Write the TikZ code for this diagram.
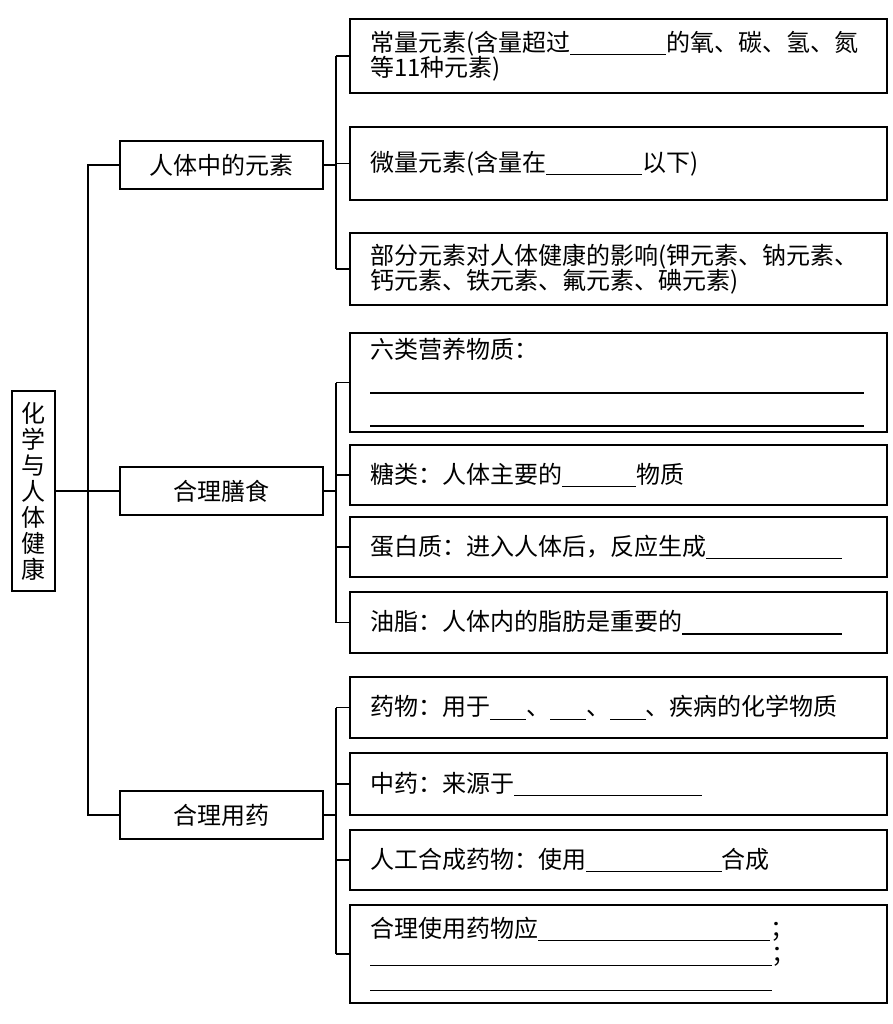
\documentclass[tikz,border=0pt]{standalone}
\usepackage{fontspec}
\setmainfont{Noto Sans CJK SC}
\XeTeXlinebreaklocale "zh"
\newcommand\blank[1]{\rule[-2pt]{#1}{0.6pt}}
\tikzset{
  rootbox/.style={draw, line width=0.7pt, minimum width=21.5pt, minimum height=100pt, inner sep=1pt, align=center, font=\fontsize{12}{13}\selectfont},
  topicbox/.style={draw, line width=0.7pt, minimum width=101.5pt, minimum height=24pt, font=\fontsize{12}{13}\selectfont},
  itembox/.style={draw, line width=0.7pt, text width=248.5pt, inner xsep=10pt, inner ysep=2pt, align=left, font=\fontsize{12}{12.5}\selectfont},
  link/.style={line width=0.7pt},
}
\begin{document}
\begin{tikzpicture}[x=0.5pt, y=-0.5pt]
    \useasboundingbox (0,0) rectangle (893,1024);
    % root and topics
    \node[rootbox] (R) at (33.5,491) {化\\学\\与\\人\\体\\健\\康};
    \node[topicbox] (L1) at (221.5,165) {人体中的元素};
    \node[topicbox] (L2) at (221.5,491) {合理膳食};
    \node[topicbox] (L3) at (221.5,815) {合理用药};
    % elements
    \node[itembox, minimum height=37pt] (E1) at (618.5,56) {常量元素(含量超过\blank{48pt}的氧、碳、氢、氮\\等11种元素)};
    \node[itembox, minimum height=36.5pt] (E2) at (618.5,163.5) {微量元素(含量在\blank{48pt}以下)};
    \node[itembox, minimum height=36pt] (E3) at (618.5,269) {部分元素对人体健康的影响(钾元素、钠元素、\\钙元素、铁元素、氟元素、碘元素)};
    % diet
    \node[itembox, minimum height=49.5pt] (D1) at (618.5,382.5) {六类营养物质：\\[3pt]\blank{247pt}\\[4pt]\blank{247pt}};
    \node[itembox, minimum height=30pt] (D2) at (618.5,475) {糖类：人体主要的\blank{37pt}物质};
    \node[itembox, minimum height=30pt] (D3) at (618.5,547) {蛋白质：进入人体后，反应生成\blank{68pt}};
    \node[itembox, minimum height=30.5pt] (D4) at (618.5,622.5) {油脂：人体内的脂肪是重要的\blank{80pt}};
    % medicine
    \node[itembox, minimum height=30.5pt] (M1) at (618.5,707.5) {药物：用于\blank{18pt}、\blank{18pt}、\blank{18pt}、疾病的化学物质};
    \node[itembox, minimum height=31pt] (M2) at (618.5,784) {中药：来源于\blank{94pt}};
    \node[itembox, minimum height=30pt] (M3) at (618.5,860) {人工合成药物：使用\blank{68pt}合成};
    \node[itembox, minimum height=49pt] (M4) at (618.5,954) {合理使用药物应\blank{116pt}；\\\blank{201pt}；\\\blank{201pt}};
    % trunk
    \coordinate (T) at (88,491);
    \draw[link] (R.east) -- (L2.west);
    \draw[link] (L1.west) -| (T) |- (L3.west);
    % branches
    \coordinate (C1) at (336,165);
    \coordinate (C2) at (336,491);
    \coordinate (C3) at (336,815);
    \draw[link] (L1.east) -- (C1);
    \draw[link] (L2.east) -- (C2);
    \draw[link] (L3.east) -- (C3);
    \draw[link] (C1 |- E1.west) -- (C1 |- E3.west);
    \draw[link] (C2 |- D1.west) -- (C2 |- D4.west);
    \draw[link] (C3 |- M1.west) -- (C3 |- M4.west);
    \foreach \i in {1,2,3}
        \draw[link] (C1 |- E\i.west) -- (E\i.west);
    \foreach \i in {1,2,3,4}
        \draw[link] (C2 |- D\i.west) -- (D\i.west);
    \foreach \i in {1,2,3,4}
        \draw[link] (C3 |- M\i.west) -- (M\i.west);
\end{tikzpicture}
\end{document}
